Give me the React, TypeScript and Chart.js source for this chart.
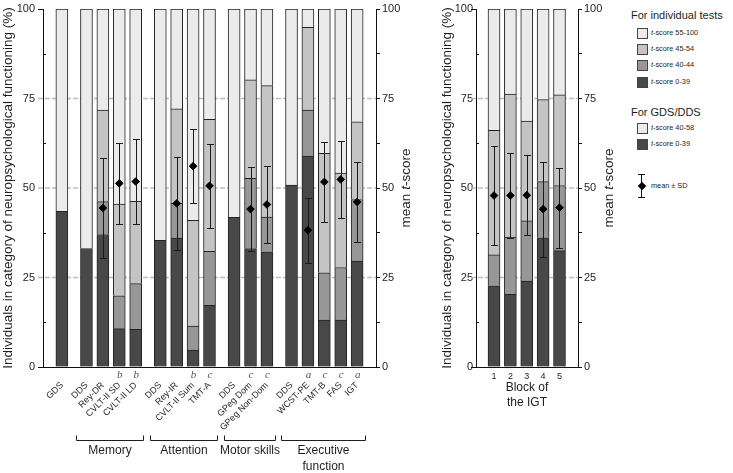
import React, { useEffect, useRef } from 'react';
import { Chart, registerables } from 'chart.js';

Chart.register(...registerables);

// ---------------- data ----------------
const testLabels = [
  'GDS',
  'DDS', 'Rey-DR', 'CVLT-II SD', 'CVLT-II LD',
  'DDS', 'Rey-IR', 'CVLT-II Sum', 'TMT-A',
  'DDS', 'GPeg Dom', 'GPeg Non-Dom',
  'DDS', 'WCST-PE', 'TMT-B', 'FAS', 'IGT',
];
const testGroupSizes = [1, 4, 4, 3, 5];
const testGroupNames: string[][] = [[], ['Memory'], ['Attention'], ['Motor skills'], ['Executive', 'function']];
const testNotes = ['', '', '', 'b', 'b', '', '', 'b', 'c', '', 'c', 'c', '', 'a', 'c', 'c', 'a'];

const pct0to39 = [43.5, 33.1, 37.0, 10.7, 10.5, 35.4, 36.0, 4.7, 17.2, 41.8, 33.1, 32.2, 50.8, 58.9, 13.1, 13.1, 29.6];
const pct40to44 = [null, null, 9.2, 9.2, 12.8, null, 9.7, 6.7, 15.1, null, 19.6, 9.7, null, 12.9, 13.2, 14.7, 17.2];
const pct45to54 = [null, null, 25.6, 25.6, 23.0, null, 26.4, 29.6, 36.9, null, 27.5, 36.7, null, 23.1, 33.4, 26.4, 21.7];
const pctTop = [56.5, 66.9, 28.2, 54.5, 53.7, 64.6, 27.9, 59.0, 30.8, 58.2, 19.8, 21.4, 49.2, 5.1, 40.3, 45.8, 31.5];
const testMean = [null, null, 44.4, 51.3, 51.8, null, 45.7, 56.1, 50.6, null, 44.1, 45.4, null, 38.2, 51.7, 52.4, 46.1];
const testSd = [null, null, 14.0, 11.4, 11.8, null, 13.0, 10.4, 11.7, null, 11.8, 10.7, null, 9.1, 11.1, 10.8, 11.1];

const blockLabels = ['1', '2', '3', '4', '5'];
const block0to39 = [22.7, 20.3, 24.0, 36.1, 32.5];
const block40to44 = [8.6, 16.0, 16.8, 15.7, 18.2];
const block45to54 = [34.8, 39.9, 27.9, 22.9, 25.3];
const blockTop = [33.9, 23.8, 31.3, 25.3, 24.0];
const blockMean = [47.9, 47.9, 48.0, 44.1, 44.5];
const blockSd = [13.8, 12.0, 11.1, 13.3, 11.2];

const yTickLabels = ['0', '25', '50', '75', '100'];
const legendIndividual = ['55-100', '45-54', '40-44', '0-39'];
const legendGdsDds = ['40-58', '0-39'];

// ---------------- styles ----------------
const FONT = '"Liberation Sans", Arial, sans-serif';
const C_DARK = '#484848';
const C_MID = '#979797';
const C_LMID = '#c4c4c4';
const C_LIGHT = '#ebebeb';
const EDGE = '#222222';
const GRID = '#bdbdbd';
const AXIS = '#111111';
const TEXT = '#1e1e1e';

const testGroupIndex: number[] = testGroupSizes.flatMap((n, g) => Array(n).fill(g));
const testPositions = testGroupIndex.map((g, i) => i + 0.5 * g);
const blockPositions = blockLabels.map((_, i) => i);

type Part = [string, boolean];

function drawParts(ctx: CanvasRenderingContext2D, parts: Part[], x: number, y: number, size: number, rotate: boolean, color = TEXT) {
  ctx.save();
  ctx.translate(x, y);
  if (rotate) ctx.rotate(-Math.PI / 2);
  const fonts = parts.map(([, it]) => `${it ? 'italic ' : ''}${size}px ${FONT}`);
  let total = 0;
  const widths = parts.map(([t], i) => {
    ctx.font = fonts[i];
    const w = ctx.measureText(t).width;
    total += w;
    return w;
  });
  let cx = -total / 2;
  ctx.textBaseline = 'middle';
  ctx.textAlign = 'left';
  ctx.fillStyle = color;
  parts.forEach(([t], i) => {
    ctx.font = fonts[i];
    ctx.fillText(t, cx, 0);
    cx += widths[i];
  });
  ctx.restore();
}

type Decor = {
  leftTitleX: number;
  rightTitleX: number;
  positions: number[];
  means: (number | null)[];
  sds: (number | null)[];
  meanIndex: number;
  notes?: string[];
  groupNames?: string[][];
  groupSizes?: number[];
  xTitle?: string[];
};

const leftTitle: Part[] = [['Individuals in category of neuropsychological functioning (%)', false]];
const rightTitle: Part[] = [['mean ', false], ['t', true], ['-score', false]];

function decorPlugin(d: Decor) {
  return {
    id: 'decor',
    beforeDatasetsDraw(chart: any) {
      const { ctx, chartArea: a, scales } = chart;
      const y = scales.y;
      ctx.save();
      ctx.strokeStyle = GRID;
      ctx.lineWidth = 1.5;
      ctx.setLineDash([5, 2]);
      for (const v of [25, 50, 75]) {
        const py = y.getPixelForValue(v);
        ctx.beginPath();
        ctx.moveTo(a.left - 5, py);
        ctx.lineTo(a.right, py);
        ctx.stroke();
      }
      ctx.setLineDash([]);
      ctx.strokeStyle = AXIS;
      ctx.lineWidth = 1;
      for (const v of [12.5, 37.5, 62.5, 87.5]) {
        const py = Math.round(y.getPixelForValue(v)) + 0.5;
        ctx.beginPath();
        ctx.moveTo(a.left, py);
        ctx.lineTo(a.left + 3, py);
        ctx.stroke();
      }
      for (const v of [0, 100]) {
        const py = Math.round(y.getPixelForValue(v)) + 0.5;
        ctx.beginPath();
        ctx.moveTo(a.left - 5, py);
        ctx.lineTo(a.left, py);
        ctx.stroke();
      }
      ctx.restore();
    },
    beforeDatasetDraw(chart: any, args: any) {
      if (args.index !== d.meanIndex) return;
      const { ctx, scales } = chart;
      const x = scales.x;
      const y2 = scales.y2;
      ctx.save();
      ctx.strokeStyle = '#1a1a1a';
      ctx.lineWidth = 1;
      d.positions.forEach((p, i) => {
        const m = d.means[i];
        const s = d.sds[i];
        if (m == null || s == null) return;
        const px = Math.round(x.getPixelForValue(p)) + 0.5;
        const t = Math.round(y2.getPixelForValue(m + s)) + 0.5;
        const b = Math.round(y2.getPixelForValue(m - s)) + 0.5;
        ctx.beginPath();
        ctx.moveTo(px, t);
        ctx.lineTo(px, b);
        ctx.moveTo(px - 3.5, t);
        ctx.lineTo(px + 3.5, t);
        ctx.moveTo(px - 3.5, b);
        ctx.lineTo(px + 3.5, b);
        ctx.stroke();
      });
      ctx.restore();
    },
    afterDraw(chart: any) {
      const { ctx, chartArea: a, scales } = chart;
      const x = scales.x;
      const cy = (a.top + a.bottom) / 2;
      drawParts(ctx, leftTitle, d.leftTitleX, cy, 13.5, true);
      drawParts(ctx, rightTitle, d.rightTitleX, cy, 13.5, true);
      if (d.notes) {
        ctx.save();
        ctx.font = `italic 11px "Liberation Serif", serif`;
        ctx.fillStyle = '#555';
        ctx.textAlign = 'center';
        ctx.textBaseline = 'middle';
        d.notes.forEach((n, i) => {
          if (!n) return;
          ctx.fillText(n, x.getPixelForValue(d.positions[i]) + 0.5, a.bottom + 8.5);
        });
        ctx.restore();
      }
      if (d.groupNames && d.groupSizes) {
        let start = 0;
        ctx.save();
        ctx.strokeStyle = TEXT;
        ctx.lineWidth = 1;
        d.groupSizes.forEach((n, g) => {
          const names = d.groupNames![g];
          const first = d.positions[start];
          const last = d.positions[start + n - 1];
          start += n;
          if (!names.length) return;
          const x0 = Math.round(x.getPixelForValue(first - 0.62)) + 0.5;
          const x1 = Math.round(x.getPixelForValue(last + 0.47)) + 0.5;
          const by = 440.5;
          ctx.beginPath();
          ctx.moveTo(x0, by - 5);
          ctx.lineTo(x0, by);
          ctx.lineTo(x1, by);
          ctx.lineTo(x1, by - 5);
          ctx.stroke();
          names.forEach((nm, k) => {
            drawParts(ctx, [[nm, false]], (x0 + x1) / 2, 451 + k * 15.5, 12, false);
          });
        });
        ctx.restore();
      }
      if (d.xTitle) {
        d.xTitle.forEach((t, k) => {
          drawParts(ctx, [[t, false]], (a.left + a.right) / 2, 387.5 + k * 15.5, 12, false);
        });
      }
    },
  };
}

function segment(values: (number | null)[], positions: number[], color: string) {
  return {
    type: 'bar' as const,
    data: positions.map((p, i) => ({ x: p, y: values[i] })),
    backgroundColor: color,
    borderColor: EDGE,
    borderWidth: 1,
    barThickness: 12,
    stack: 's',
    order: 1,
    yAxisID: 'y',
  };
}

function meanSet(means: (number | null)[], positions: number[]) {
  return {
    type: 'line' as const,
    data: positions.map((p, i) => ({ x: p, y: means[i] })),
    showLine: false,
    pointStyle: 'rectRot',
    pointRadius: 3.8,
    backgroundColor: '#000',
    borderColor: '#000',
    borderWidth: 1,
    order: 0,
    yAxisID: 'y2',
  };
}

function yAxes(leftWidth: number, rightWidth: number, leftGap: number) {
  const label = (v: any) => {
    const i = [0, 25, 50, 75, 100].indexOf(Number(v));
    return i >= 0 ? yTickLabels[i] : '';
  };
  return {
    y: {
      type: 'linear',
      position: 'left',
      min: 0,
      max: 100,
      stacked: true,
      grid: { display: true, drawOnChartArea: false, drawTicks: true, tickLength: leftGap, color: 'rgba(0,0,0,0)', tickColor: 'rgba(0,0,0,0)' },
      border: { display: true, color: AXIS, width: 1 },
      ticks: { stepSize: 12.5, callback: label, padding: 2, color: TEXT, font: { size: 11, family: FONT } },
      afterFit: (s: any) => { s.width = leftWidth; },
    },
    y2: {
      type: 'linear',
      position: 'right',
      min: 0,
      max: 100,
      grid: { display: true, drawOnChartArea: false, drawTicks: true, tickLength: 4, color: AXIS, tickColor: AXIS },
      border: { display: true, color: AXIS, width: 1 },
      ticks: { stepSize: 12.5, callback: label, padding: 2, color: TEXT, font: { size: 11, family: FONT } },
      afterFit: (s: any) => { s.width = rightWidth; },
    },
  };
}

function xAxis(min: number, max: number, positions: number[], labels: string[], rotation: number, pad: number) {
  return {
    type: 'linear',
    min,
    max,
    offset: false,
    stacked: true,
    grid: { display: false, drawTicks: false, tickLength: 0 },
    border: { display: true, color: AXIS, width: 1 },
    afterBuildTicks: (s: any) => { s.ticks = positions.map((v) => ({ value: v })); },
    ticks: {
      autoSkip: false,
      minRotation: rotation,
      maxRotation: rotation,
      padding: pad,
      color: TEXT,
      font: { size: 9, family: FONT },
      callback: (_v: any, i: number) => labels[i],
    },
    afterFit: (s: any) => { s.height = 106; },
  };
}

const baseOptions = {
  animation: false,
  responsive: false,
  maintainAspectRatio: false,
  devicePixelRatio: 1,
  events: [],
  layout: { padding: { top: 9, left: 0, right: 0, bottom: 0 }, autoPadding: false },
  plugins: { legend: { display: false }, tooltip: { enabled: false } },
};

function leftConfig(): any {
  return {
    type: 'bar',
    data: {
      datasets: [
        segment(pct0to39, testPositions, C_DARK),
        segment(pct40to44, testPositions, C_MID),
        segment(pct45to54, testPositions, C_LMID),
        segment(pctTop, testPositions, C_LIGHT),
        meanSet(testMean, testPositions),
      ],
    },
    options: {
      ...baseOptions,
      scales: {
        x: xAxis(-1.15, 19.15, testPositions, testLabels, 45, 13),
        ...yAxes(43, 49, 6),
      },
    },
    plugins: [decorPlugin({
      leftTitleX: 8,
      rightTitleX: 406,
      positions: testPositions,
      means: testMean,
      sds: testSd,
      meanIndex: 4,
      notes: testNotes,
      groupNames: testGroupNames,
      groupSizes: testGroupSizes,
    })],
  };
}

function rightConfig(): any {
  return {
    type: 'bar',
    data: {
      datasets: [
        segment(block0to39, blockPositions, C_DARK),
        segment(block40to44, blockPositions, C_MID),
        segment(block45to54, blockPositions, C_LMID),
        segment(blockTop, blockPositions, C_LIGHT),
        meanSet(blockMean, blockPositions),
      ],
    },
    options: {
      ...baseOptions,
      scales: {
        x: xAxis(-1.1, 5.13, blockPositions, blockLabels, 0, 4),
        ...yAxes(51, 42, 1),
      },
    },
    plugins: [decorPlugin({
      leftTitleX: 22,
      rightTitleX: 184,
      positions: blockPositions,
      means: blockMean,
      sds: blockSd,
      meanIndex: 4,
      xTitle: ['Block of', 'the IGT'],
    })],
  };
}

const abs = (s: React.CSSProperties): React.CSSProperties => ({ position: 'absolute', ...s });

function LegendItem({ color, label, cy }: { color: string; label: string; cy: number }) {
  return (
    <>
      <div style={abs({ left: 637, top: cy - 5, width: 9, height: 9, background: color, border: '1px solid #444' })} />
      <div style={abs({ left: 651, top: cy - 6, height: 12, lineHeight: '12px', fontSize: 7.3, fontFamily: FONT, color: TEXT, whiteSpace: 'nowrap' })}>
        <i>t</i>-score {label}
      </div>
    </>
  );
}

function Legend() {
  const head = (text: string, cy: number) => (
    <div style={abs({ left: 631, top: cy - 8, height: 16, lineHeight: '16px', fontSize: 11, fontFamily: FONT, color: TEXT, whiteSpace: 'nowrap' })}>{text}</div>
  );
  const indColors = [C_LIGHT, C_LMID, C_MID, C_DARK];
  const gdsColors = [C_LIGHT, C_DARK];
  return (
    <>
      {head('For individual tests', 15)}
      {legendIndividual.map((l, i) => <LegendItem key={'a' + i} color={indColors[i]} label={l} cy={33 + i * 16.2} />)}
      {head('For GDS/DDS', 112)}
      {legendGdsDds.map((l, i) => <LegendItem key={'b' + i} color={gdsColors[i]} label={l} cy={128 + i * 16} />)}
      <div style={abs({ left: 641, top: 174, width: 1, height: 24, background: '#111' })} />
      <div style={abs({ left: 638, top: 174, width: 7, height: 1, background: '#111' })} />
      <div style={abs({ left: 638, top: 197, width: 7, height: 1, background: '#111' })} />
      <div style={abs({ left: 638.5, top: 183, width: 6, height: 6, background: '#000', transform: 'rotate(45deg)' })} />
      <div style={abs({ left: 651, top: 180, height: 12, lineHeight: '12px', fontSize: 7.3, fontFamily: FONT, color: TEXT, whiteSpace: 'nowrap' })}>
        mean ± SD
      </div>
    </>
  );
}

export default function App() {
  const leftRef = useRef<HTMLCanvasElement>(null);
  const rightRef = useRef<HTMLCanvasElement>(null);
  useEffect(() => {
    const c1 = new Chart(leftRef.current!, leftConfig());
    const c2 = new Chart(rightRef.current!, rightConfig());
    return () => {
      c1.destroy();
      c2.destroy();
    };
  }, []);
  return (
    <div style={abs({ left: 0, top: 0, width: 733, height: 473, background: '#fff', overflow: 'hidden' })}>
      <canvas ref={leftRef} width={425} height={473} style={abs({ left: 0, top: 0, width: 425, height: 473, display: 'block' })} />
      <canvas ref={rightRef} width={195} height={473} style={abs({ left: 425, top: 0, width: 195, height: 473, display: 'block' })} />
      <Legend />
    </div>
  );
}
